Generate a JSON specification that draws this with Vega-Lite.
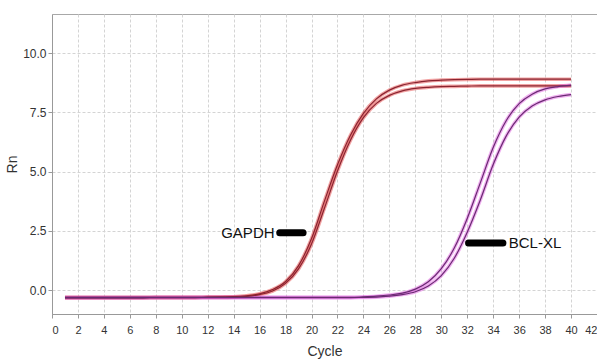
{
  "$schema": "https://vega.github.io/schema/vega-lite/v6.json",
  "width": 545,
  "height": 300,
  "autosize": {"type": "none"},
  "padding": {"left": 52, "top": 14, "right": 0, "bottom": 49},
  "background": "white",
  "title": {"text": "Amplification Plot", "fontSize": 15, "font": "Liberation Sans", "fontWeight": "bold", "color": "#000", "baseline": "alphabetic", "offset": 13, "dx": -24, "anchor": "middle"},
  "config": {
    "view": {"stroke": "#a8a8a8", "strokeWidth": 1},
    "axis": {
      "labelFont": "Liberation Sans",
      "titleFont": "Liberation Sans",
      "labelFontSize": 11, "labelColor": "#333", "titleColor": "#333",
      "titleFontSize": 14, "titleFontWeight": "normal",
      "gridColor": "#d4d4d4", "gridDash": [3, 2], "gridWidth": 1,
      "domainColor": "#999", "tickColor": "#999", "tickSize": 4,
      "labelOverlap": false
    }
  },
  "datasets": {
    "curves": [
      {"cycle": 1, "GAPDH_1": -0.30, "GAPDH_2": -0.32, "BCLXL_1": -0.30, "BCLXL_2": -0.32},
      {"cycle": 2, "GAPDH_1": -0.30, "GAPDH_2": -0.32, "BCLXL_1": -0.30, "BCLXL_2": -0.32},
      {"cycle": 3, "GAPDH_1": -0.30, "GAPDH_2": -0.32, "BCLXL_1": -0.30, "BCLXL_2": -0.32},
      {"cycle": 4, "GAPDH_1": -0.30, "GAPDH_2": -0.32, "BCLXL_1": -0.30, "BCLXL_2": -0.32},
      {"cycle": 5, "GAPDH_1": -0.30, "GAPDH_2": -0.32, "BCLXL_1": -0.30, "BCLXL_2": -0.32},
      {"cycle": 6, "GAPDH_1": -0.30, "GAPDH_2": -0.32, "BCLXL_1": -0.30, "BCLXL_2": -0.32},
      {"cycle": 7, "GAPDH_1": -0.30, "GAPDH_2": -0.32, "BCLXL_1": -0.30, "BCLXL_2": -0.32},
      {"cycle": 8, "GAPDH_1": -0.30, "GAPDH_2": -0.31, "BCLXL_1": -0.30, "BCLXL_2": -0.31},
      {"cycle": 9, "GAPDH_1": -0.30, "GAPDH_2": -0.31, "BCLXL_1": -0.30, "BCLXL_2": -0.31},
      {"cycle": 10, "GAPDH_1": -0.30, "GAPDH_2": -0.31, "BCLXL_1": -0.30, "BCLXL_2": -0.31},
      {"cycle": 11, "GAPDH_1": -0.30, "GAPDH_2": -0.31, "BCLXL_1": -0.30, "BCLXL_2": -0.31},
      {"cycle": 12, "GAPDH_1": -0.29, "GAPDH_2": -0.30, "BCLXL_1": -0.30, "BCLXL_2": -0.31},
      {"cycle": 13, "GAPDH_1": -0.28, "GAPDH_2": -0.30, "BCLXL_1": -0.30, "BCLXL_2": -0.31},
      {"cycle": 14, "GAPDH_1": -0.27, "GAPDH_2": -0.29, "BCLXL_1": -0.30, "BCLXL_2": -0.31},
      {"cycle": 15, "GAPDH_1": -0.23, "GAPDH_2": -0.26, "BCLXL_1": -0.30, "BCLXL_2": -0.31},
      {"cycle": 16, "GAPDH_1": -0.15, "GAPDH_2": -0.18, "BCLXL_1": -0.30, "BCLXL_2": -0.31},
      {"cycle": 17, "GAPDH_1": 0.03, "GAPDH_2": -0.03, "BCLXL_1": -0.30, "BCLXL_2": -0.31},
      {"cycle": 18, "GAPDH_1": 0.37, "GAPDH_2": 0.29, "BCLXL_1": -0.30, "BCLXL_2": -0.31},
      {"cycle": 19, "GAPDH_1": 1.04, "GAPDH_2": 0.90, "BCLXL_1": -0.30, "BCLXL_2": -0.31},
      {"cycle": 20, "GAPDH_1": 2.18, "GAPDH_2": 1.95, "BCLXL_1": -0.30, "BCLXL_2": -0.31},
      {"cycle": 21, "GAPDH_1": 3.77, "GAPDH_2": 3.47, "BCLXL_1": -0.30, "BCLXL_2": -0.31},
      {"cycle": 22, "GAPDH_1": 5.29, "GAPDH_2": 5.03, "BCLXL_1": -0.30, "BCLXL_2": -0.31},
      {"cycle": 23, "GAPDH_1": 6.54, "GAPDH_2": 6.33, "BCLXL_1": -0.30, "BCLXL_2": -0.31},
      {"cycle": 24, "GAPDH_1": 7.46, "GAPDH_2": 7.28, "BCLXL_1": -0.28, "BCLXL_2": -0.30},
      {"cycle": 25, "GAPDH_1": 8.07, "GAPDH_2": 7.88, "BCLXL_1": -0.25, "BCLXL_2": -0.29},
      {"cycle": 26, "GAPDH_1": 8.44, "GAPDH_2": 8.22, "BCLXL_1": -0.20, "BCLXL_2": -0.25},
      {"cycle": 27, "GAPDH_1": 8.65, "GAPDH_2": 8.41, "BCLXL_1": -0.12, "BCLXL_2": -0.18},
      {"cycle": 28, "GAPDH_1": 8.76, "GAPDH_2": 8.51, "BCLXL_1": 0.05, "BCLXL_2": -0.06},
      {"cycle": 29, "GAPDH_1": 8.83, "GAPDH_2": 8.56, "BCLXL_1": 0.36, "BCLXL_2": 0.18},
      {"cycle": 30, "GAPDH_1": 8.86, "GAPDH_2": 8.59, "BCLXL_1": 0.91, "BCLXL_2": 0.62},
      {"cycle": 31, "GAPDH_1": 8.88, "GAPDH_2": 8.60, "BCLXL_1": 1.78, "BCLXL_2": 1.35},
      {"cycle": 32, "GAPDH_1": 8.89, "GAPDH_2": 8.61, "BCLXL_1": 3.03, "BCLXL_2": 2.45},
      {"cycle": 33, "GAPDH_1": 8.90, "GAPDH_2": 8.62, "BCLXL_1": 4.52, "BCLXL_2": 3.80},
      {"cycle": 34, "GAPDH_1": 8.90, "GAPDH_2": 8.62, "BCLXL_1": 6.02, "BCLXL_2": 5.30},
      {"cycle": 35, "GAPDH_1": 8.90, "GAPDH_2": 8.62, "BCLXL_1": 7.15, "BCLXL_2": 6.50},
      {"cycle": 36, "GAPDH_1": 8.90, "GAPDH_2": 8.62, "BCLXL_1": 7.87, "BCLXL_2": 7.30},
      {"cycle": 37, "GAPDH_1": 8.90, "GAPDH_2": 8.62, "BCLXL_1": 8.27, "BCLXL_2": 7.77},
      {"cycle": 38, "GAPDH_1": 8.90, "GAPDH_2": 8.62, "BCLXL_1": 8.49, "BCLXL_2": 8.03},
      {"cycle": 39, "GAPDH_1": 8.90, "GAPDH_2": 8.62, "BCLXL_1": 8.59, "BCLXL_2": 8.17},
      {"cycle": 40, "GAPDH_1": 8.90, "GAPDH_2": 8.62, "BCLXL_1": 8.65, "BCLXL_2": 8.25}
    ],
    "labels": [
      {"label": "GAPDH", "tx": 17.15, "ty": 2.43, "bx": 17.55, "bx2": 19.35, "by": 2.43},
      {"label": "BCL-XL", "tx": 35.2, "ty": 1.99, "bx": 32.1, "bx2": 34.75, "by": 1.99}
    ]
  },
  "encoding": {
    "x": {"type": "quantitative", "scale": {"domain": [0, 42], "nice": false, "zero": false}, "axis": {"values": [0,2,4,6,8,10,12,14,16,18,20,22,24,26,28,30,32,34,36,38,40,42], "title": "Cycle", "grid": true, "labelPadding": 6, "titlePadding": 9}},
    "y": {"type": "quantitative", "scale": {"domain": [-1, 11.65], "nice": false, "zero": false}, "axis": {"values": [0, 2.5, 5, 7.5, 10], "format": ".1f", "title": "Rn", "grid": true, "labelPadding": 2, "titlePadding": 3, "labelFontSize": 12}}
  },
  "layer": [
    {
      "data": {"name": "curves"},
      "transform": [{"fold": ["GAPDH_1", "GAPDH_2", "BCLXL_1", "BCLXL_2"], "as": ["run", "rn"]}],
      "mark": {"type": "line", "interpolate": "monotone", "strokeWidth": 3.6, "opacity": 0.5},
      "encoding": {
        "x": {"field": "cycle"},
        "y": {"field": "rn"},
        "color": {"field": "run", "type": "nominal", "scale": {"domain": ["GAPDH_1", "GAPDH_2", "BCLXL_1", "BCLXL_2"], "range": ["#e64a4a", "#e64a4a", "#e060e0", "#e060e0"]}, "legend": null}
      }
    },
    {
      "data": {"name": "curves"},
      "transform": [{"fold": ["GAPDH_1", "GAPDH_2", "BCLXL_1", "BCLXL_2"], "as": ["run", "rn"]}],
      "mark": {"type": "line", "interpolate": "monotone", "strokeWidth": 1.2},
      "encoding": {
        "x": {"field": "cycle"},
        "y": {"field": "rn"},
        "stroke": {"field": "run", "type": "nominal", "scale": {"domain": ["GAPDH_1", "GAPDH_2", "BCLXL_1", "BCLXL_2"], "range": ["#8a2430", "#8a2430", "#6a2a72", "#6a2a72"]}, "legend": null}
      }
    },
    {
      "data": {"name": "labels"},
      "mark": {"type": "rule", "strokeWidth": 7, "strokeCap": "round", "color": "#000"},
      "encoding": {
        "x": {"field": "bx"},
        "x2": {"field": "bx2"},
        "y": {"field": "by"}
      }
    },
    {
      "data": {"name": "labels"},
      "transform": [{"filter": "datum.label == 'GAPDH'"}],
      "mark": {"type": "text", "align": "right", "baseline": "middle", "fontSize": 15, "font": "Liberation Sans", "color": "#111"},
      "encoding": {
        "x": {"field": "tx"},
        "y": {"field": "ty"},
        "text": {"field": "label"}
      }
    },
    {
      "data": {"name": "labels"},
      "transform": [{"filter": "datum.label == 'BCL-XL'"}],
      "mark": {"type": "text", "align": "left", "baseline": "middle", "fontSize": 15, "font": "Liberation Sans", "color": "#111"},
      "encoding": {
        "x": {"field": "tx"},
        "y": {"field": "ty"},
        "text": {"field": "label"}
      }
    }
  ],
  "resolve": {"scale": {"color": "independent"}}
}
